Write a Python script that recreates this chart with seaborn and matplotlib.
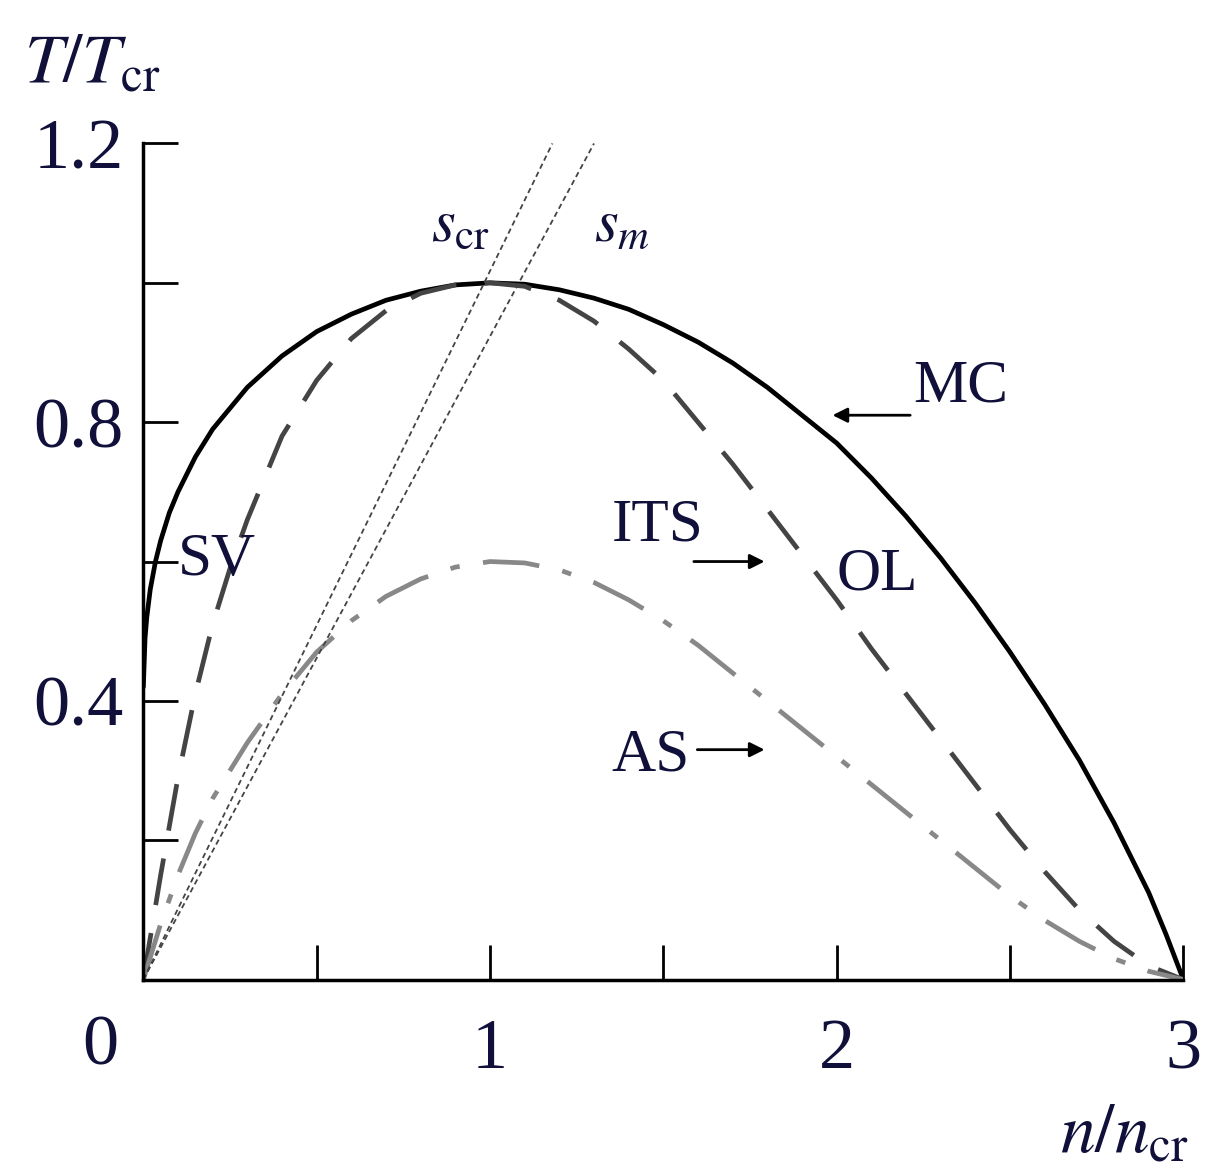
import numpy as np
import matplotlib
matplotlib.use("Agg")
import matplotlib.pyplot as plt
import seaborn as sns

sns.set_style("ticks")
plt.rcParams['font.family'] = ['Liberation Serif', 'DejaVu Serif']
plt.rcParams['mathtext.fontset'] = 'stix'

# data
mc_x = [0.0, 0.005, 0.01, 0.02, 0.035, 0.05, 0.075, 0.1, 0.15, 0.2, 0.25, 0.3, 0.4, 0.5, 0.6, 0.7, 0.8, 0.9, 1.0,
        1.1, 1.2, 1.3, 1.4, 1.5, 1.6, 1.7, 1.8, 1.9, 2.0, 2.1, 2.2, 2.3, 2.4, 2.5, 2.6, 2.7, 2.8, 2.85, 2.9, 2.95, 3.0]
mc_y = [0.42, 0.49, 0.52, 0.56, 0.6, 0.63, 0.67, 0.7, 0.75, 0.79, 0.82, 0.85, 0.895, 0.93, 0.955, 0.975, 0.988, 0.997, 1.0,
        0.998, 0.99, 0.978, 0.962, 0.94, 0.915, 0.885, 0.85, 0.81, 0.77, 0.72, 0.665, 0.605, 0.54, 0.47, 0.395, 0.315, 0.225, 0.175, 0.125, 0.065, 0.0]
its_x = [0.0, 0.05, 0.1, 0.15, 0.2, 0.25, 0.3, 0.4, 0.5, 0.6, 0.7, 0.8, 0.9, 1.0, 1.1, 1.2, 1.3, 1.4, 1.5,
         1.6, 1.7, 1.8, 1.9, 2.0, 2.1, 2.2, 2.3, 2.4, 2.5, 2.6, 2.7, 2.8, 2.9, 3.0]
its_y = [0.0, 0.15, 0.29, 0.41, 0.51, 0.59, 0.66, 0.78, 0.86, 0.92, 0.96, 0.985, 0.997, 1.0, 0.995, 0.975, 0.945, 0.905, 0.86,
         0.8, 0.74, 0.675, 0.61, 0.545, 0.475, 0.41, 0.345, 0.28, 0.215, 0.155, 0.1, 0.055, 0.02, 0.0]
as_x = [0.0, 0.05, 0.1, 0.15, 0.2, 0.3, 0.4, 0.5, 0.6, 0.7, 0.8, 0.9, 1.0, 1.1, 1.2, 1.3, 1.4, 1.5, 1.6, 1.7,
        1.8, 1.9, 2.0, 2.1, 2.2, 2.3, 2.4, 2.5, 2.6, 2.7, 2.8, 2.9, 3.0]
as_y = [0.0, 0.08, 0.15, 0.21, 0.26, 0.34, 0.41, 0.47, 0.515, 0.55, 0.575, 0.592, 0.6, 0.598, 0.588, 0.57, 0.545, 0.515, 0.48, 0.44,
        0.4, 0.36, 0.32, 0.28, 0.24, 0.2, 0.16, 0.12, 0.085, 0.055, 0.03, 0.012, 0.0]
scr_x = [0.0, 1.18]
scr_y = [0.0, 1.2]
sm_x = [0.0, 1.3]
sm_y = [0.0, 1.2]

fig = plt.figure(figsize=(12.25, 11.76), dpi=100)
ax = fig.add_axes([0.117, 0.167, 0.849, 0.711])

sns.lineplot(x=mc_x, y=mc_y, ax=ax, color='black', lw=3.4, sort=False)
sns.lineplot(x=its_x, y=its_y, ax=ax, color='#444444', lw=3.4, sort=False).lines[-1].set_dashes([10, 6])
sns.lineplot(x=as_x, y=as_y, ax=ax, color='#888888', lw=3.4, sort=False).lines[-1].set_dashes([12, 5, 2, 5])
sns.lineplot(x=scr_x, y=scr_y, ax=ax, color='#444444', lw=1.3, sort=False).lines[-1].set_dashes([3, 2])
sns.lineplot(x=sm_x, y=sm_y, ax=ax, color='#444444', lw=1.3, sort=False).lines[-1].set_dashes([3, 2])

navy = '#10103a'
ax.set_xlim(0, 3)
ax.set_ylim(0, 1.2)
ax.set_xticks([0, 0.5, 1, 1.5, 2, 2.5, 3])
ax.set_xticklabels(['', '', '1', '', '2', '', '3'])
ax.set_yticks([0, 0.2, 0.4, 0.6, 0.8, 1.0, 1.2])
ax.set_yticklabels(['', '', '0.4', '', '0.8', '', '1.2'])
ax.tick_params(direction='in', length=25, width=2, labelsize=52, pad=14, colors='black', labelcolor=navy)
ax.tick_params(axis='x', pad=28)
for s in ['top', 'right']:
    ax.spines[s].set_visible(False)
for s in ['left', 'bottom']:
    ax.spines[s].set_linewidth(2.5)
    ax.spines[s].set_color('black')

fig.text(0.082, 0.095, '0', fontsize=52, ha='center', color=navy)
fig.text(0.02, 0.93, r'$T/T_{\mathrm{cr}}$', fontsize=50, color=navy)
fig.text(0.865, 0.02, r'$n/n_{\mathrm{cr}}$', fontsize=50, color=navy)

fs = 44
ax.text(1.0, 1.06, r'$s_{\mathrm{cr}}$', fontsize=fs, ha='right', color=navy)
ax.text(1.3, 1.06, r'$s_{m}$', fontsize=fs, color=navy)
ax.text(2.22, 0.83, 'MC', fontsize=fs, color=navy)
ax.annotate('', xy=(1.98, 0.81), xytext=(2.22, 0.81),
            arrowprops=dict(arrowstyle='-|>', color='black', lw=2, mutation_scale=22))
ax.text(0.1, 0.58, 'SV', fontsize=fs, color=navy)
ax.text(1.35, 0.63, 'ITS', fontsize=fs, color=navy)
ax.annotate('', xy=(1.8, 0.6), xytext=(1.58, 0.6),
            arrowprops=dict(arrowstyle='-|>', color='black', lw=2, mutation_scale=22))
ax.text(2.0, 0.56, 'OL', fontsize=fs, color=navy)
ax.text(1.35, 0.3, 'AS', fontsize=fs, color=navy)
ax.annotate('', xy=(1.8, 0.33), xytext=(1.59, 0.33),
            arrowprops=dict(arrowstyle='-|>', color='black', lw=2, mutation_scale=22))

fig.savefig('out.png', dpi=100)
